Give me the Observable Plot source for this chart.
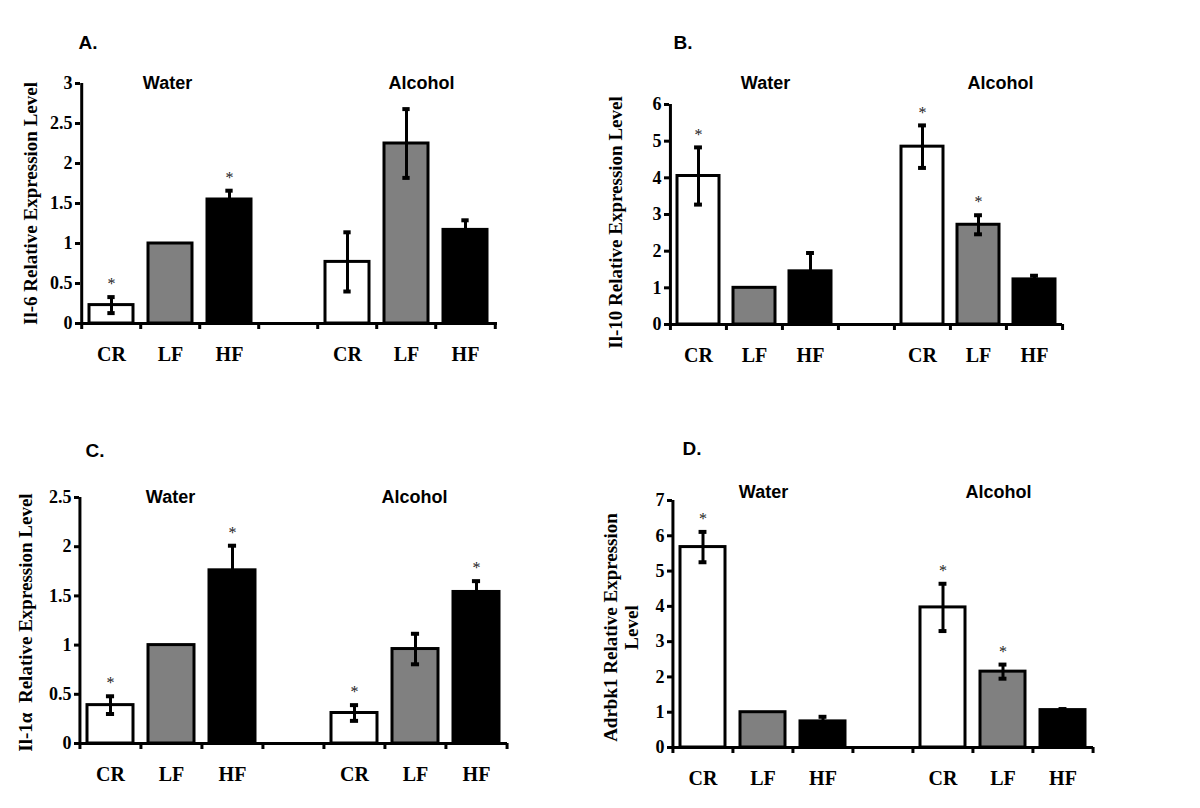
<!DOCTYPE html>
<html><head><meta charset="utf-8">
<script src="https://cdn.jsdelivr.net/npm/d3@7"></script>
<script src="https://cdn.jsdelivr.net/npm/@observablehq/plot@0.6"></script>
<style>
body{margin:0;background:#fff;}
#fig{position:relative;width:1200px;height:808px;overflow:hidden;background:#fff;}
.panel{position:absolute;width:600px;height:404px;}
.panel svg{overflow:visible;}
</style></head><body><div id="fig"></div>
<script>
// ---- data ----
const groups = ["Water", "Alcohol"];
const diets = ["CR", "LF", "HF"];
const dietFill = ["#ffffff", "#808080", "#000000"];

const il6Values = [0.23, 1.00, 1.55, 0.77, 2.25, 1.17];
const il6Errors = [0.10, 0, 0.11, 0.37, 0.43, 0.12];
const il6Stars  = [1, 0, 1, 0, 0, 0];
const il6Ticks  = [0, 0.5, 1, 1.5, 2, 2.5, 3];

const il10Values = [4.05, 1.00, 1.45, 4.85, 2.72, 1.23];
const il10Errors = [0.78, 0, 0.50, 0.58, 0.26, 0.10];
const il10Stars  = [1, 0, 0, 1, 1, 0];
const il10Ticks  = [0, 1, 2, 3, 4, 5, 6];

const il1aValues = [0.39, 1.00, 1.76, 0.31, 0.96, 1.54];
const il1aErrors = [0.09, 0, 0.25, 0.08, 0.155, 0.11];
const il1aStars  = [1, 0, 1, 1, 0, 1];
const il1aTicks  = [0, 0.5, 1, 1.5, 2, 2.5];

const adrbk1Values = [5.68, 1.00, 0.74, 3.97, 2.15, 1.06];
const adrbk1Errors = [0.43, 0, 0.13, 0.67, 0.20, 0.03];
const adrbk1Stars  = [1, 0, 0, 1, 1, 0];
const adrbk1Ticks  = [0, 1, 2, 3, 4, 5, 6, 7];

const panelLetters = ["A.", "B.", "C.", "D."];
const yLabels = [
  "Il-6 Relative Expression Level",
  "Il-10 Relative Expression Level",
  "Il-1α  Relative Expression Level",
  "Adrbk1 Relative Expression\nLevel"
];

// ---- layout ----
const W = 600, H = 404;
const layouts = [
  {left: 0,   top: 0,   ml: 80, mr: 103, mt: 83,  mb: 81, letter: [78, 42],  water: [167, 83],  alcohol: [421, 83],  ylab: [30, 203]},
  {left: 600, top: 0,   ml: 69, mr: 138, mt: 104, mb: 80, letter: [673, 42], water: [765, 83],  alcohol: [1000, 83], ylab: [615, 222]},
  {left: 0,   top: 404, ml: 79, mr: 93,  mt: 93,  mb: 65, letter: [85, 450], water: [170, 497], alcohol: [414, 497], ylab: [25, 622]},
  {left: 600, top: 404, ml: 72, mr: 107, mt: 96,  mb: 61, letter: [682, 448], water: [763, 492], alcohol: [998, 492], ylab: [620, 627]}
];

const datasets = [
  [il6Values, il6Errors, il6Stars, il6Ticks],
  [il10Values, il10Errors, il10Stars, il10Ticks],
  [il1aValues, il1aErrors, il1aStars, il1aTicks],
  [adrbk1Values, adrbk1Errors, adrbk1Stars, adrbk1Ticks]
];

const xDomain = ["Water-CR", "Water-LF", "Water-HF", "gap", "Alcohol-CR", "Alcohol-LF", "Alcohol-HF"];
const PAD = 0.25;
const serif = "'Liberation Serif', 'Times New Roman', serif";
const sans = "'Liberation Sans', Arial, sans-serif";

const fig = document.getElementById("fig");

datasets.forEach(([values, errors, stars, ticks], p) => {
  const L = layouts[p];
  const rows = groups.flatMap((g, gi) => diets.map((d, di) => ({
    key: `${g}-${d}`, diet: d,
    value: values[gi * 3 + di], err: errors[gi * 3 + di], star: stars[gi * 3 + di]
  })));
  const withErr = rows.filter(d => d.err > 0);
  const caps = withErr.flatMap(d => [{key: d.key, y: d.value + d.err}, {key: d.key, y: d.value - d.err}]);
  const yMax = ticks[ticks.length - 1];
  const step = (W - L.ml - L.mr) / xDomain.length;
  const bw = step * (1 - PAD);
  const capInset = (bw - 8) / 2;
  const lx = L.left, ly = L.top;
  const frameMidY = (L.mt + H - L.mb) / 2;

  const chart = Plot.plot({
    width: W, height: H,
    marginLeft: L.ml, marginRight: L.mr, marginTop: L.mt, marginBottom: L.mb,
    style: {fontFamily: serif, fontWeight: "bold", fontSize: "17px", color: "#000", background: "transparent"},
    x: {domain: xDomain, paddingInner: PAD, paddingOuter: PAD / 2, axis: null, label: null},
    y: {domain: [0, yMax], axis: null, label: null},
    color: {domain: diets, range: dietFill},
    marks: [
      Plot.barY(rows, {x: "key", y: "value", fill: "diet", stroke: "#000", strokeWidth: 3}),
      Plot.ruleX(withErr, {x: "key", y1: d => d.value - d.err, y2: d => d.value + d.err, stroke: "#000", strokeWidth: 3}),
      Plot.tickY(caps, {x: "key", y: "y", insetLeft: capInset, insetRight: capInset, stroke: "#000", strokeWidth: 4}),
      Plot.text(rows.filter(d => d.star), {x: "key", y: d => d.value + d.err, text: () => "*", dy: -13,
        fontSize: 16, fontWeight: "normal", fill: "#222"}),
      Plot.ruleY([0], {stroke: "#000", strokeWidth: 3}),
      Plot.ruleX([xDomain[0]], {x: d => d, dx: -step / 2, y1: 0, y2: yMax, stroke: "#000", strokeWidth: 3}),
      Plot.axisY({ticks, tickSize: 5, tickPadding: 3, tickFormat: d => String(d), strokeWidth: 3, fontSize: 18}),
      Plot.axisX({ticks: xDomain, tickSize: 6, tickFormat: () => "", dx: -step / 2, strokeWidth: 3}),
      Plot.axisX({ticks: [xDomain[xDomain.length - 1]], tickSize: 6, tickFormat: () => "", dx: step / 2, strokeWidth: 3}),
      Plot.axisX({ticks: xDomain, tickSize: 0, tickPadding: 23,
        tickFormat: d => d === "gap" ? "" : d.split("-")[1], fontSize: 20}),
      Plot.text([yLabels[p]], {frameAnchor: "left", textAnchor: "middle", rotate: -90,
        dx: (L.ylab[0] - lx) - L.ml, dy: (L.ylab[1] - ly) - frameMidY,
        fontSize: 19, lineAnchor: "middle", lineHeight: 1.1}),
      Plot.text([panelLetters[p]], {frameAnchor: "top-left", textAnchor: "start",
        dx: (L.letter[0] - lx) - L.ml, dy: (L.letter[1] - ly) - L.mt,
        fontFamily: sans, fontSize: 19, lineAnchor: "middle"}),
      Plot.text(["Water"], {frameAnchor: "top-left", textAnchor: "middle",
        dx: (L.water[0] - lx) - L.ml, dy: (L.water[1] - ly) - L.mt,
        fontFamily: sans, fontSize: 18, lineAnchor: "middle"}),
      Plot.text(["Alcohol"], {frameAnchor: "top-left", textAnchor: "middle",
        dx: (L.alcohol[0] - lx) - L.ml, dy: (L.alcohol[1] - ly) - L.mt,
        fontFamily: sans, fontSize: 18, lineAnchor: "middle"})
    ]
  });
  const div = document.createElement("div");
  div.className = "panel";
  div.style.left = L.left + "px";
  div.style.top = L.top + "px";
  div.appendChild(chart);
  fig.appendChild(div);
});
</script></body></html>
